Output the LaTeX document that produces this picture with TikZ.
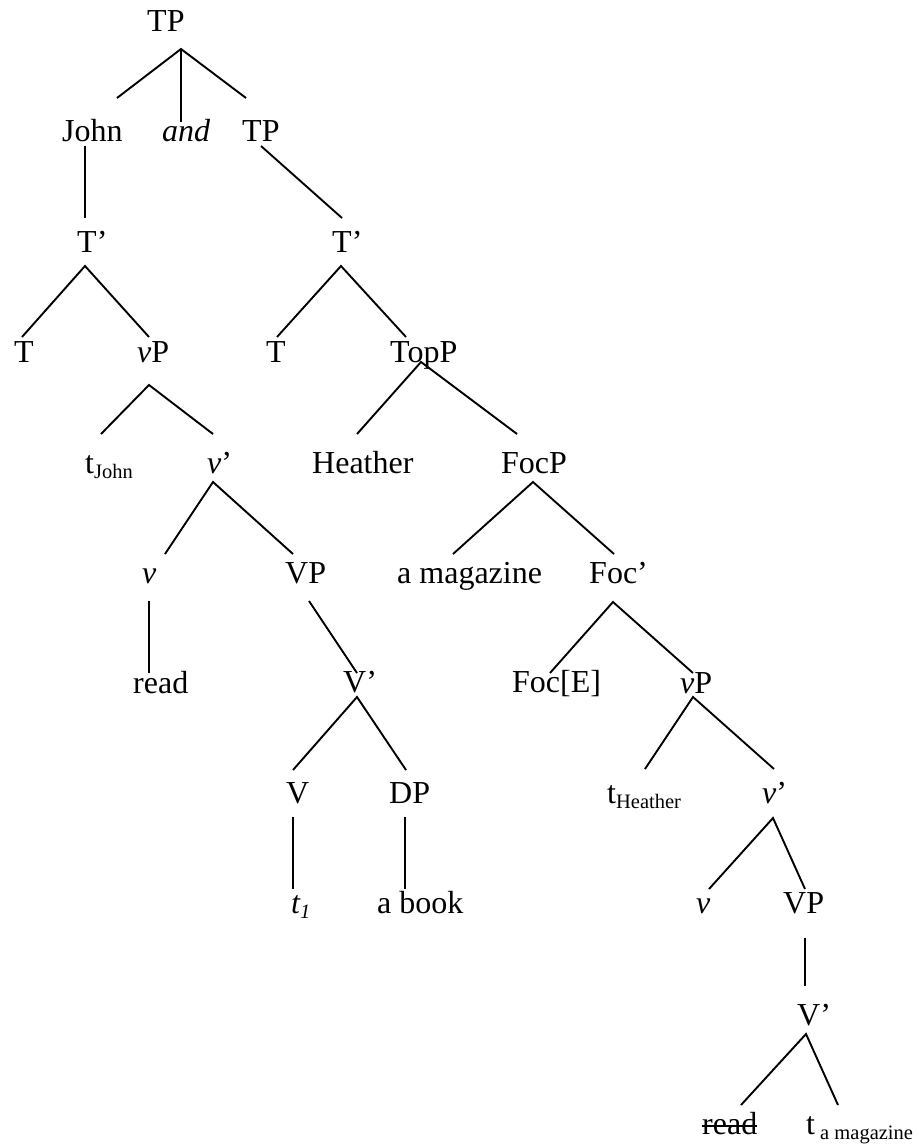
\documentclass[tikz,border=0pt]{standalone}
\usepackage{fontspec}
\setmainfont{Liberation Serif}
\newcommand\lsub[1]{\raisebox{-5pt}{\fontsize{20.5}{22}\selectfont #1}}
\begin{document}
\begin{tikzpicture}[x=1pt,y=-1pt,
  lbl/.style={anchor=base west, inner sep=0pt, font=\fontsize{32}{38}\selectfont},
  br/.style={line width=1.9pt, line cap=butt}]
\useasboundingbox (0,0) rectangle (918,1145);
% labels
\node[lbl] (TP0) at (147,32) {TP};
\node[lbl] (John) at (62,142) {John};
\node[lbl] (and) at (162,142) {\itshape and};
\node[lbl] (TP1) at (242,142) {TP};
\node[lbl] (T1p) at (77,252) {T’};
\node[lbl] (T2p) at (332,252) {T’};
\node[lbl] (Ta) at (14,362) {T};
\node[lbl] (vP1) at (137,362) {\itshape v\upshape P};
\node[lbl] (Tb) at (266,362) {T};
\node[lbl] (TopP) at (390,362) {TopP};
\node[lbl] (tJohn) at (85,473) {t\lsub{John}};
\node[lbl] (vb1) at (207,473) {\itshape v\upshape ’};
\node[lbl] (Heather) at (312,473) {Heather};
\node[lbl] (FocP) at (501,473) {FocP};
\node[lbl] (v1) at (142,583) {\itshape v};
\node[lbl] (VP1) at (285,583) {VP};
\node[lbl] (amag) at (397,583) {a magazine};
\node[lbl] (Focb) at (589,583) {Foc’};
\node[lbl] (read1) at (133,693) {read};
\node[lbl] (Vb1) at (343,692) {V’};
\node[lbl] (FocE) at (512,692) {Foc[E]};
\node[lbl] (vP2) at (680,693) {\itshape v\upshape P};
\node[lbl] (V) at (286,803) {V};
\node[lbl] (DP) at (389,803) {DP};
\node[lbl] (tHeather) at (607,803) {t\lsub{Heather}};
\node[lbl] (vb2) at (762,803) {\itshape v\upshape ’};
\node[lbl] (tone) at (291,913) {\itshape t\lsub{\itshape 1}};
\node[lbl] (abook) at (377,913) {a book};
\node[lbl] (v2) at (696,913) {\itshape v};
\node[lbl] (VP2) at (783,913) {VP};
\node[lbl] (Vb2) at (797,1025) {V’};
\node[lbl] (read2) at (702,1134) {read};
\node[lbl] (tmag) at (806,1134) {t\lsub{ a magazine}};
\draw[br] ([yshift=8pt]read2.base west) -- ([yshift=8pt]read2.base east);
% branch points
\coordinate (tp0-a) at (181,49);
\coordinate (john-t) at (117,98);
\coordinate (and-t) at (181,122);
\coordinate (tp1-t) at (246,98);
\coordinate (john-b) at (85,146);
\coordinate (t1p-t) at (85,218);
\coordinate (tp1-b) at (261,146);
\coordinate (t2p-t) at (342,218);
\coordinate (t1p-a) at (85,266);
\coordinate (ta-t) at (22,337);
\coordinate (vp1-t) at (149,337);
\coordinate (t2p-a) at (341,266);
\coordinate (tb-t) at (277,337);
\coordinate (topp-t) at (406,337);
\coordinate (vp1-a) at (149,385);
\coordinate (tjohn-t) at (101,434);
\coordinate (vb1-t) at (213,434);
\coordinate (topp-a) at (421,362);
\coordinate (heather-t) at (357,434);
\coordinate (focp-t) at (517,434);
\coordinate (vb1-a) at (213,482);
\coordinate (v1-t) at (165,554);
\coordinate (vpp1-t) at (293,554);
\coordinate (focp-a) at (533,482);
\coordinate (amag-t) at (453,554);
\coordinate (focb-t) at (614,554);
\coordinate (v1-b) at (149,601);
\coordinate (read1-t) at (149,673);
\coordinate (vpp1-b) at (309,601);
\coordinate (Vb1-t) at (357,673);
\coordinate (focb-a) at (613,602);
\coordinate (foce-t) at (550,673);
\coordinate (vp2-t) at (693,673);
\coordinate (Vb1-a) at (357,697);
\coordinate (V-t) at (293,770);
\coordinate (dp-t) at (406,770);
\coordinate (vp2-a) at (693,697);
\coordinate (theather-t) at (645,769);
\coordinate (vb2-t) at (774,769);
\coordinate (V-b) at (293,817);
\coordinate (tone-t) at (293,889);
\coordinate (dp-b) at (405,817);
\coordinate (abook-t) at (405,889);
\coordinate (vb2-a) at (773,818);
\coordinate (v2-t) at (709,889);
\coordinate (vpp2-t) at (805,889);
\coordinate (vpp2-b) at (805,938);
\coordinate (Vb2-t) at (805,986);
\coordinate (Vb2-a) at (806,1034);
\coordinate (read2-t) at (741,1105);
\coordinate (tmag-t) at (838,1105);
% branches
\draw[br] (john-t) -- (tp0-a) -- (tp1-t);
\draw[br] (tp0-a) -- (and-t);
\draw[br] (john-b) -- (t1p-t);
\draw[br] (tp1-b) -- (t2p-t);
\draw[br] (ta-t) -- (t1p-a) -- (vp1-t);
\draw[br] (tb-t) -- (t2p-a) -- (topp-t);
\draw[br] (tjohn-t) -- (vp1-a) -- (vb1-t);
\draw[br] (heather-t) -- (topp-a) -- (focp-t);
\draw[br] (v1-t) -- (vb1-a) -- (vpp1-t);
\draw[br] (amag-t) -- (focp-a) -- (focb-t);
\draw[br] (v1-b) -- (read1-t);
\draw[br] (vpp1-b) -- (Vb1-t);
\draw[br] (foce-t) -- (focb-a) -- (vp2-t);
\draw[br] (V-t) -- (Vb1-a) -- (dp-t);
\draw[br] (theather-t) -- (vp2-a) -- (vb2-t);
\draw[br] (V-b) -- (tone-t);
\draw[br] (dp-b) -- (abook-t);
\draw[br] (v2-t) -- (vb2-a) -- (vpp2-t);
\draw[br] (vpp2-b) -- (Vb2-t);
\draw[br] (read2-t) -- (Vb2-a) -- (tmag-t);
\end{tikzpicture}
\end{document}
